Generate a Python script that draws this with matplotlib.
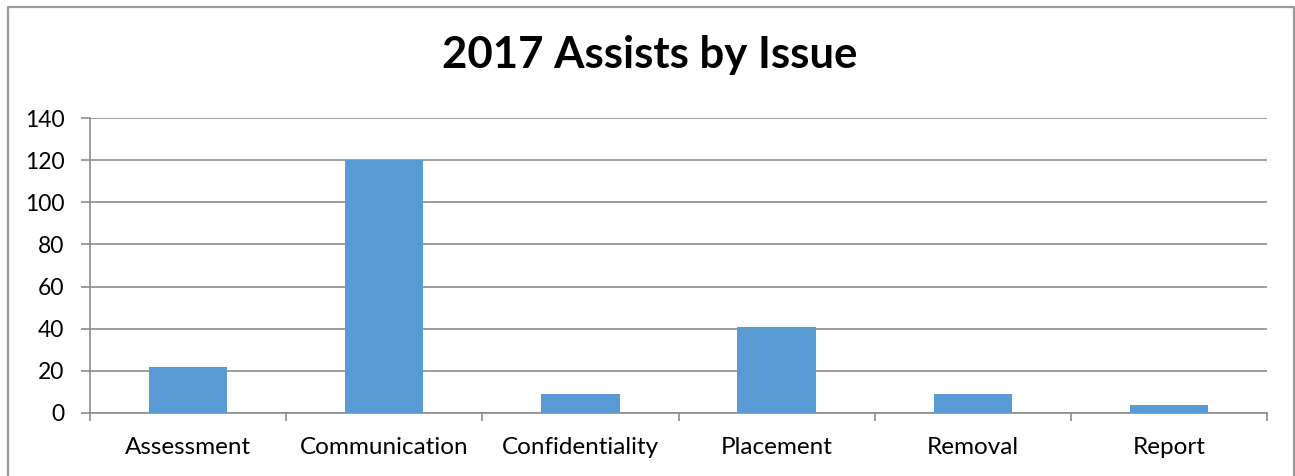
import numpy as np
import matplotlib
matplotlib.use("Agg")
import matplotlib.pyplot as plt
from matplotlib.lines import Line2D

issues = ['Assessment', 'Communication', 'Confidentiality', 'Placement', 'Removal', 'Report']
assists = [22, 120, 9, 41, 9, 4]
yticks = [0, 20, 40, 60, 80, 100, 120, 140]

plt.rcParams['font.family'] = ['Lato', 'DejaVu Sans']

fig = plt.figure(figsize=(12.95, 4.76), dpi=100)
ax = fig.add_axes([0.0695, 0.1324, 0.9089, 0.6197])

grid_col = '#8c8c8c'
x = np.arange(len(issues))
ax.bar(x, assists, width=0.4, color='#5b9bd5', zorder=3)

ax.set_xlim(-0.5, len(issues) - 0.5)
ax.set_ylim(0, 140)
ax.set_yticks(yticks)
ax.yaxis.grid(True, color=grid_col, linewidth=1.2, zorder=0)

# category labels centred, tick marks on the boundaries between them
ax.set_xticks(x)
ax.set_xticklabels(issues, fontsize=17.5)
ax.set_xticks(np.arange(-0.5, len(issues)), minor=True)
ax.tick_params(axis='x', which='major', length=0, pad=17)
ax.tick_params(axis='x', which='minor', length=6, color=grid_col, width=1.2)
ax.tick_params(axis='y', length=6.5, color=grid_col, width=1.2, labelsize=16.5, pad=12)

for side in ['top', 'right']:
    ax.spines[side].set_visible(False)
for side in ['left', 'bottom']:
    ax.spines[side].set_color(grid_col)
    ax.spines[side].set_linewidth(1.2)

fig.text(0.502, 0.885, '2017 Assists by Issue', ha='center', va='center',
         fontsize=31.5, fontweight='bold')

# chart border: left, top and right edges (bottom runs off the image)
bx0, bx1, by = 7.5 / 1295, 1293.5 / 1295, 1 - 6.5 / 476
fig.lines.append(Line2D([bx0, bx0, bx1, bx1], [0, by, by, 0], transform=fig.transFigure,
                        color='#9a9a9a', linewidth=1.6))

fig.savefig('out.png', dpi=100)
